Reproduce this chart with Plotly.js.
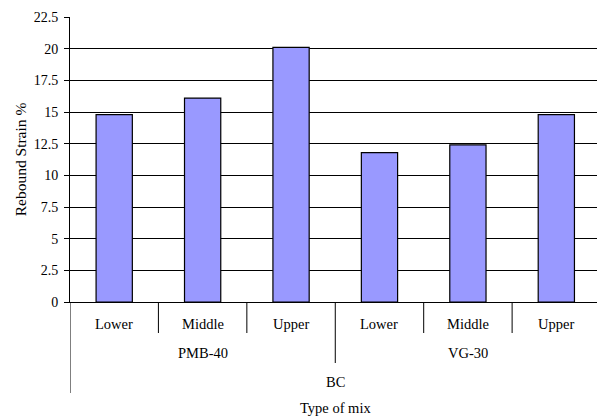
<!DOCTYPE html>
<html>
<head>
<meta charset="utf-8">
<script src="https://cdn.plot.ly/plotly-3.0.1.min.js"></script>
<style>html,body{margin:0;padding:0;background:#fff;}#chart{width:597px;height:416px;}</style>
</head>
<body>
<div id="chart"></div>
<script>
// ---- data ----
const groups = ["PMB-40", "VG-30"];
const levels = ["Lower", "Middle", "Upper"];
const values = [14.8, 16.1, 20.1, 11.8, 12.4, 14.8];
const topLabel = "BC";
const xTitle = "Type of mix";
const yTitle = "Rebound Strain %";

const FONT = "Liberation Serif, Times New Roman, serif";
const LBL = 14.5;
const n = groups.length * levels.length;
const xs = [];
const catLabels = [];
groups.forEach((g, gi) => levels.forEach((l, li) => { xs.push(gi * levels.length + li); catLabels.push(l); }));

const plotH = 285; // px of plot area
const px = v => v / plotH;

const shapes = [];
// separators between categories
for (let i = 0; i < n - 1; i++) {
  const isGroupEdge = (i + 1) % levels.length === 0;
  shapes.push({type: 'line', xref: 'x', yref: 'paper', x0: i + 0.5, x1: i + 0.5,
    y0: 0, y1: -px(isGroupEdge ? 61 : 31), line: {color: '#000', width: 1}});
}
// left axis extension
shapes.push({type: 'line', xref: 'x', yref: 'paper', x0: -0.5, x1: -0.5,
  y0: 0, y1: -px(91), line: {color: '#000', width: 1}});

const annotations = [];
catLabels.forEach((l, i) => annotations.push({x: xs[i], y: 0, xref: 'x', yref: 'paper',
  yshift: -22, yanchor: 'middle', text: l, showarrow: false, font: {family: FONT, size: LBL, color: '#000'}}));
groups.forEach((g, gi) => annotations.push({x: gi * levels.length + (levels.length - 1) / 2, y: 0, xref: 'x', yref: 'paper',
  yshift: -51, yanchor: 'middle', text: g, showarrow: false, font: {family: FONT, size: LBL, color: '#000'}}));
annotations.push({x: (n - 1) / 2, y: 0, xref: 'x', yref: 'paper', yshift: -80, yanchor: 'middle',
  text: topLabel, showarrow: false, font: {family: FONT, size: LBL, color: '#000'}});
annotations.push({x: (n - 1) / 2, y: 0, xref: 'x', yref: 'paper', yshift: -106, yanchor: 'middle',
  text: xTitle, showarrow: false, font: {family: FONT, size: LBL, color: '#000'}});

const trace = {
  type: 'bar', x: xs, y: values, width: 0.41,
  marker: {color: '#9999FF', line: {color: '#000', width: 1.2}},
  hoverinfo: 'none'
};

const layout = {
  width: 597, height: 416,
  margin: {l: 70, r: 0, t: 17, b: 114, pad: 0},
  paper_bgcolor: '#fff', plot_bgcolor: '#fff',
  showlegend: false,
  font: {family: FONT, size: 14, color: '#000'},
  xaxis: {range: [-0.5, 5.46], showticklabels: false, showgrid: false, zeroline: false,
    showline: true, linecolor: '#000', linewidth: 1, ticks: '', fixedrange: true},
  yaxis: {range: [0, 22.5], dtick: 2.5, tick0: 0, showgrid: true, gridcolor: '#000', gridwidth: 1,
    zeroline: false, showline: true, linecolor: '#000', linewidth: 1, ticks: 'outside', ticklen: 5,
    ticklabelstandoff: 3,
    tickcolor: '#000', tickfont: {family: FONT, size: 14, color: '#000'},
    title: {text: yTitle, font: {family: FONT, size: 15.5, color: '#000'}, standoff: 3}},
  shapes: shapes,
  annotations: annotations
};

Plotly.newPlot('chart', [trace], layout, {staticPlot: true, displayModeBar: false});
</script>
</body>
</html>
